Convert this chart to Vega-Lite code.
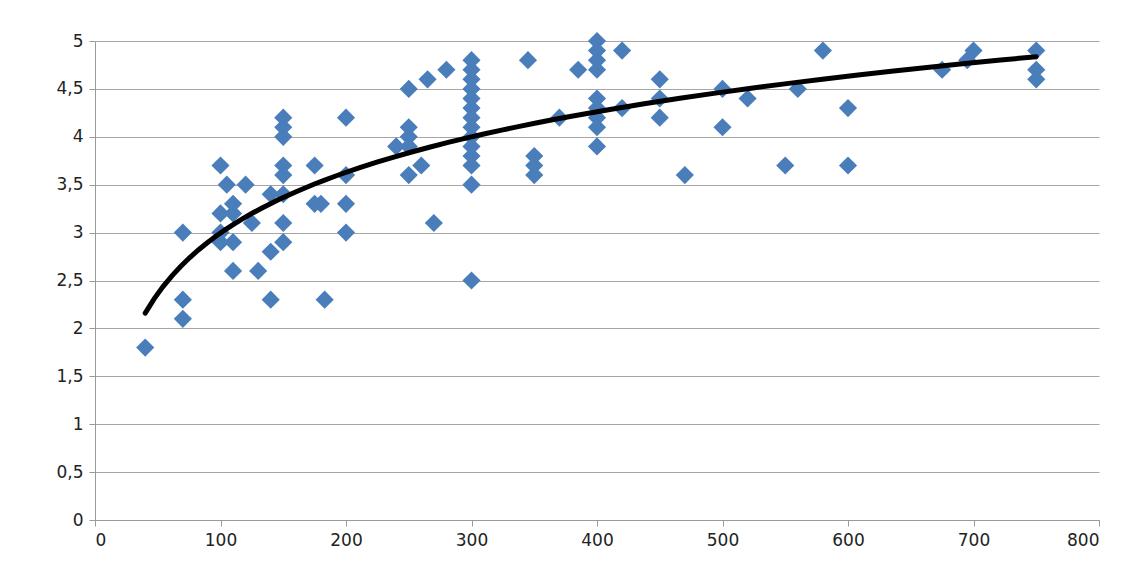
{
  "$schema": "https://vega.github.io/schema/vega-lite/v6.json",
  "autosize": {"type": "none"},
  "width": 1004,
  "height": 479,
  "padding": {"left": 95, "top": 41, "right": 47, "bottom": 62},
  "background": "white",
  "config": {
    "view": {"stroke": null},
    "axis": {"labelFont": "DejaVu Sans", "labelFontSize": 17, "labelColor": "#222", "domainColor": "#9a9a9a", "tickColor": "#9a9a9a", "gridColor": "#a6a6a6", "tickSize": 6, "labelPadding": 6}
  },
  "data": {"values": [
    {"x":40,"y":1.8},{"x":70,"y":3.0},{"x":70,"y":2.3},{"x":70,"y":2.1},
    {"x":100,"y":3.7},{"x":100,"y":3.2},{"x":100,"y":3.0},{"x":100,"y":2.9},
    {"x":105,"y":3.5},{"x":110,"y":3.3},{"x":110,"y":3.2},{"x":110,"y":2.9},{"x":110,"y":2.6},
    {"x":120,"y":3.5},{"x":125,"y":3.1},{"x":130,"y":2.6},{"x":140,"y":3.4},{"x":140,"y":2.8},{"x":140,"y":2.3},
    {"x":150,"y":4.2},{"x":150,"y":4.1},{"x":150,"y":4.0},{"x":150,"y":3.7},{"x":150,"y":3.6},{"x":150,"y":3.4},{"x":150,"y":3.1},{"x":150,"y":2.9},
    {"x":175,"y":3.7},{"x":175,"y":3.3},{"x":180,"y":3.3},{"x":183,"y":2.3},
    {"x":200,"y":4.2},{"x":200,"y":3.6},{"x":200,"y":3.3},{"x":200,"y":3.0},
    {"x":240,"y":3.9},{"x":250,"y":4.5},{"x":250,"y":4.1},{"x":250,"y":4.0},{"x":250,"y":3.9},{"x":250,"y":3.6},
    {"x":260,"y":3.7},{"x":265,"y":4.6},{"x":270,"y":3.1},{"x":280,"y":4.7},
    {"x":300,"y":4.8},{"x":300,"y":4.7},{"x":300,"y":4.6},{"x":300,"y":4.5},{"x":300,"y":4.4},{"x":300,"y":4.3},{"x":300,"y":4.2},
    {"x":300,"y":4.1},{"x":300,"y":4.0},{"x":300,"y":3.9},{"x":300,"y":3.8},{"x":300,"y":3.7},{"x":300,"y":3.5},{"x":300,"y":2.5},
    {"x":345,"y":4.8},{"x":350,"y":3.8},{"x":350,"y":3.7},{"x":350,"y":3.6},{"x":370,"y":4.2},{"x":385,"y":4.7},
    {"x":400,"y":5.0},{"x":400,"y":4.9},{"x":400,"y":4.8},{"x":400,"y":4.7},{"x":400,"y":4.4},{"x":400,"y":4.3},{"x":400,"y":4.2},{"x":400,"y":4.1},{"x":400,"y":3.9},
    {"x":420,"y":4.9},{"x":420,"y":4.3},{"x":450,"y":4.6},{"x":450,"y":4.4},{"x":450,"y":4.2},{"x":470,"y":3.6},
    {"x":500,"y":4.5},{"x":500,"y":4.1},{"x":520,"y":4.4},{"x":550,"y":3.7},{"x":560,"y":4.5},{"x":580,"y":4.9},
    {"x":600,"y":4.3},{"x":600,"y":3.7},{"x":675,"y":4.7},{"x":695,"y":4.8},{"x":700,"y":4.9},
    {"x":750,"y":4.9},{"x":750,"y":4.7},{"x":750,"y":4.6}
  ]},
  "encoding": {
    "x": {"field": "x", "type": "quantitative", "title": null, "scale": {"domain": [0, 800], "nice": false},
      "axis": {"values": [0,100,200,300,400,500,600,700,800], "grid": false, "labelExpr": "replace(datum.label, '.', ',')"}},
    "y": {"field": "y", "type": "quantitative", "title": null, "scale": {"domain": [0, 5], "nice": false},
      "axis": {"values": [0,0.5,1,1.5,2,2.5,3,3.5,4,4.5,5], "grid": true, "format": ".1~f", "labelExpr": "replace(datum.label, '.', ',')"}}
  },
  "layer": [
    {"mark": {"type": "point", "shape": "diamond", "filled": true, "size": 330, "color": "#4a7ebb", "opacity": 1}},
    {"transform": [{"regression": "y", "on": "x", "method": "log", "extent": [40, 750]}],
     "mark": {"type": "line", "color": "black", "strokeWidth": 5, "strokeCap": "round"}}
  ]
}
